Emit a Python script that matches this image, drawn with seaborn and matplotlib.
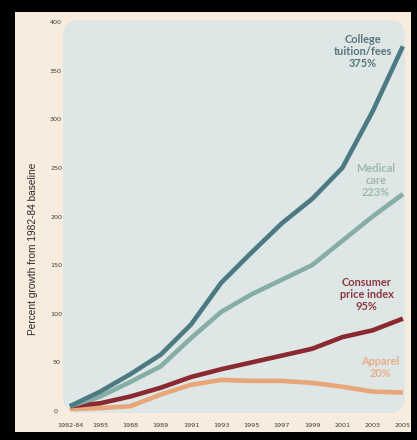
import matplotlib
matplotlib.use("Agg")
import matplotlib.pyplot as plt
from matplotlib.patches import FancyBboxPatch, Rectangle
from matplotlib.transforms import IdentityTransform
import pandas as pd
import seaborn as sns

# Data (percent growth from 1982-84 baseline)
years = ["1982-84", "1985", "1988", "1989", "1991", "1993", "1995",
         "1997", "1999", "2001", "2003", "2005"]
tuition = [5, 20, 38, 58, 89, 132, 163, 193, 218, 250, 308, 375]
medical = [5, 15, 30, 46, 75, 102, 120, 135, 150, 175, 200, 223]
cpi = [5, 8, 15, 24, 35, 43, 50, 57, 64, 76, 83, 95]
apparel = [2, 3, 5, 17, 27, 32, 31, 31, 29, 25, 20, 19]

series_names = ["Apparel", "Consumer price index", "Medical care", "College tuition/fees"]
colors = ["#E8A679", "#8A2A30", "#86AEA4", "#4B7A83"]

df = pd.DataFrame({"year": years, "College tuition/fees": tuition,
                   "Medical care": medical, "Consumer price index": cpi,
                   "Apparel": apparel})
df_long = df.melt(id_vars="year", var_name="series", value_name="pct")

W, H = 417, 440
fig = plt.figure(figsize=(W / 100, H / 100), dpi=100, facecolor="black")

# cream panel and rounded plot background (pixel coords), behind the axes
fig.patches.append(Rectangle((15, H - 432), 396, 420, transform=IdentityTransform(),
                             facecolor="#F8ECDF", edgecolor="none", zorder=-2))
fig.patches.append(FancyBboxPatch((63, H - 413), 342, 393,
                                  boxstyle="round,pad=0,rounding_size=16",
                                  transform=IdentityTransform(),
                                  facecolor="#DFE6E6", edgecolor="none", zorder=-1))

ax = fig.add_axes([63 / W, (H - 413) / H, 342 / W, 393 / H])
ax.set_facecolor("none")

sns.lineplot(data=df_long, x="year", y="pct", hue="series", hue_order=series_names,
             palette=colors, linewidth=3.3, legend=False, ax=ax, sort=False)
for ln in ax.lines:
    ln.set_solid_capstyle("butt")
    ln.set_solid_joinstyle("round")

ax.set_xlim(-0.23, 11.07)
ax.set_ylim(-2, 402)
ax.set_yticks([0, 50, 100, 150, 200, 250, 300, 350, 400])
ax.set_xticks(range(len(years)))
ax.set_xticklabels(years)
for s in ax.spines.values():
    s.set_visible(False)
ax.tick_params(axis="both", length=0, labelsize=4.6, labelcolor="#3A3A3A")
ax.tick_params(axis="x", pad=7.5)
ax.tick_params(axis="y", pad=5)
for t in ax.get_yticklabels():
    t.set_horizontalalignment("center")
ax.set_xlabel("")
ax.set_ylabel("")

fig.text(33 / W, 1 - 249 / H, "Percent growth from 1982-84 baseline", rotation=90,
         ha="center", va="center", fontsize=7.3, color="#2A2A2A",
         family=["Liberation Sans", "DejaVu Sans"])

labels = [
    ("College\ntuition/fees\n375%", 9.68, 370, "#56767B"),
    ("Medical\ncare\n223%", 10.1, 237, "#9DB8B1"),
    ("Consumer\nprice index\n95%", 9.81, 120, "#8C3944"),
    ("Apparel\n20%", 10.24, 45, "#E8AE88"),
]
for txt, x, y, c in labels:
    ax.text(x, y, txt, ha="center", va="center", fontsize=7.9, color=c,
            family=["Lato", "DejaVu Sans"], weight="bold", linespacing=1.1)

fig.savefig("out.png", dpi=100, facecolor="black")
